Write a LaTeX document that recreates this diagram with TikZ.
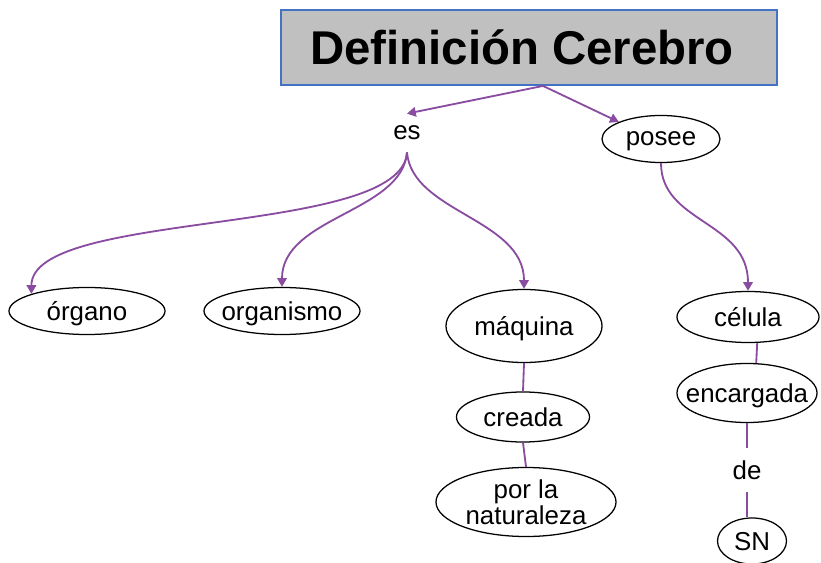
\documentclass[tikz,border=0pt]{standalone}
\usepackage{fontspec}
\setmainfont{Liberation Sans}
\usetikzlibrary{shapes.geometric,arrows.meta}
\definecolor{linkpurple}{RGB}{137,76,160}
\definecolor{titlegray}{RGB}{192,192,192}
\definecolor{titleblue}{RGB}{68,114,196}
\begin{document}
\begin{tikzpicture}[
x=0.025cm, y=-0.025cm,
every node/.style={font=\fontsize{18.4}{19}\selectfont},
oval/.style={ellipse, draw, line width=0.9pt, inner xsep=-1cm, inner ysep=-0.3cm, text depth=0pt, align=center},
word/.style={inner sep=0.3cm},
titlebox/.style={draw=titleblue, fill=titlegray, line width=1.3pt, minimum width=12.4cm, minimum height=1.875cm, font=\fontsize{33.7}{36}\selectfont\bfseries},
link/.style={draw=linkpurple, line width=1.3pt},
arr/.style={link, -{Triangle[length=0.22cm,width=0.24cm]}}
]
\useasboundingbox (0,0) rectangle (821,563);

\node[titlebox] at (529,47.5) (def) {Definición Cerebro\hspace*{0.35cm}};
\node[word] at (407,133) (es) {es};
\node[oval, minimum width=2.95cm, minimum height=1.175cm] at (661,139) (posee) {posee};
\node[oval, minimum width=3.9cm, minimum height=1.175cm] at (87,311) (organo) {órgano};
\node[oval, minimum width=3.9cm, minimum height=1.175cm] at (282,311) (organismo) {organismo};
\node[oval, minimum width=3.9cm, minimum height=1.825cm] at (524,326) (maquina) {máquina};
\node[oval, minimum width=3.325cm, minimum height=1.25cm] at (523,417) (creada) {creada};
\node[oval, minimum width=4.5cm, minimum height=1.725cm] at (526,502) (natur) {por la\\naturaleza};
\node[oval, minimum width=3.55cm, minimum height=1.275cm] at (748,317) (celula) {célula};
\node[oval, minimum width=3.5cm, minimum height=1.475cm] at (747,393) (encargada) {encargada};
\node[word] at (747,470) (de) {de};
\node[oval, minimum width=1.725cm, minimum height=1.15cm] at (752,541) (sn) {SN};

\draw[arr] ([xshift=0.35cm]def.south) -- (es.north);
\draw[arr] ([xshift=0.35cm]def.south) -- (posee.north west);
\draw[arr] (es.south) .. controls +(-5,85) and +(0,-85) .. (organo.north west);
\draw[arr] (es.south) .. controls +(-5,60) and +(0,-70) .. (organismo.north);
\draw[arr] (es.south) .. controls +(5,60) and +(0,-70) .. (maquina.north);
\draw[arr] (posee.south) .. controls +(0,60) and +(0,-70) .. (celula.north);

\draw[link] (maquina.south) -- (creada.north);
\draw[link] (creada.south) -- (natur.north);
\draw[link] ([xshift=0.23cm]celula.south) -- ([xshift=0.23cm]encargada.north);
\draw[link] (encargada.south) -- (de.north);
\draw[link] (de.south) -- (de.south |- sn.north);

\end{tikzpicture}
\end{document}
